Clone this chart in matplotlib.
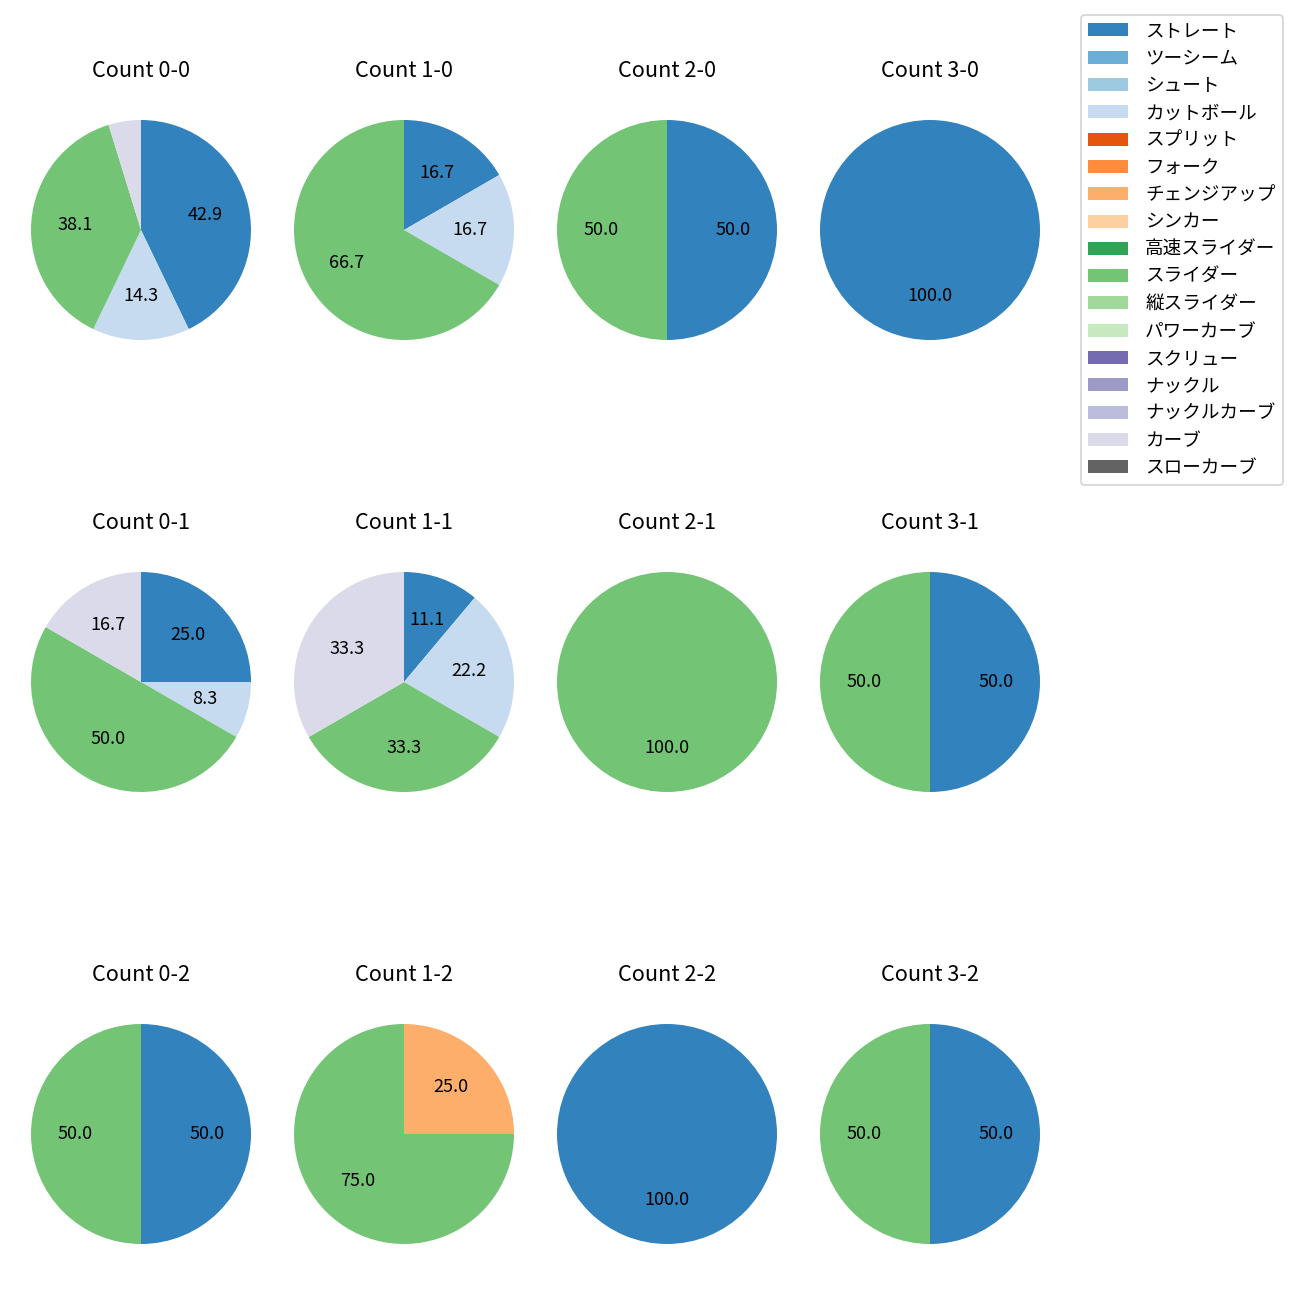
"""
Pie charts of pitch type mix by ball-strike count.
"""

import matplotlib
matplotlib.use("Agg")
import matplotlib.pyplot as plt
from matplotlib.patches import Patch

plt.rcParams['font.family'] = ['Noto Sans CJK JP', 'DejaVu Sans']

# Pitch types in legend order.
pitch_types = [
    "ストレート", "ツーシーム", "シュート", "カットボール", "スプリット",
    "フォーク", "チェンジアップ", "シンカー", "高速スライダー", "スライダー",
    "縦スライダー", "パワーカーブ", "スクリュー", "ナックル", "ナックルカーブ",
    "カーブ", "スローカーブ",
]

# Number of pitches of each type, per count (ordered as pitch_types).
#            St Tw Sh Ct Sp Fk Ch Si HS Sl VS PC Sc Kn KC Cv SC
count_00 = [9, 0, 0, 3, 0, 0, 0, 0, 0, 8, 0, 0, 0, 0, 0, 1, 0]
count_10 = [1, 0, 0, 1, 0, 0, 0, 0, 0, 4, 0, 0, 0, 0, 0, 0, 0]
count_20 = [1, 0, 0, 0, 0, 0, 0, 0, 0, 1, 0, 0, 0, 0, 0, 0, 0]
count_30 = [1, 0, 0, 0, 0, 0, 0, 0, 0, 0, 0, 0, 0, 0, 0, 0, 0]
count_01 = [3, 0, 0, 1, 0, 0, 0, 0, 0, 6, 0, 0, 0, 0, 0, 2, 0]
count_11 = [1, 0, 0, 2, 0, 0, 0, 0, 0, 3, 0, 0, 0, 0, 0, 3, 0]
count_21 = [0, 0, 0, 0, 0, 0, 0, 0, 0, 1, 0, 0, 0, 0, 0, 0, 0]
count_31 = [1, 0, 0, 0, 0, 0, 0, 0, 0, 1, 0, 0, 0, 0, 0, 0, 0]
count_02 = [1, 0, 0, 0, 0, 0, 0, 0, 0, 1, 0, 0, 0, 0, 0, 0, 0]
count_12 = [0, 0, 0, 0, 0, 0, 1, 0, 0, 3, 0, 0, 0, 0, 0, 0, 0]
count_22 = [1, 0, 0, 0, 0, 0, 0, 0, 0, 0, 0, 0, 0, 0, 0, 0, 0]
count_32 = [1, 0, 0, 0, 0, 0, 0, 0, 0, 1, 0, 0, 0, 0, 0, 0, 0]

# Grid rows are strikes, columns are balls.
grid = [
    [("0-0", count_00), ("1-0", count_10), ("2-0", count_20), ("3-0", count_30)],
    [("0-1", count_01), ("1-1", count_11), ("2-1", count_21), ("3-1", count_31)],
    [("0-2", count_02), ("1-2", count_12), ("2-2", count_22), ("3-2", count_32)],
]

colors = [plt.cm.tab20c(i) for i in range(len(pitch_types))]

W, H = 1300, 1300
fig = plt.figure(figsize=(10, 10), dpi=130)

col_x = [141, 404, 667, 930]
row_y = [230, 682, 1134]
box = 275  # pixel size of each (square) axes


def pct_label(p):
    return "%.1f" % p if p >= 5 else ""


for r, row in enumerate(grid):
    for c, (name, counts) in enumerate(row):
        cx, cy = col_x[c], row_y[r]
        ax = fig.add_axes([(cx - box / 2) / W, 1 - (cy + box / 2) / H,
                           box / W, box / H])
        vals = [v for v in counts if v > 0]
        cols = [colors[i] for i, v in enumerate(counts) if v > 0]
        ax.pie(vals, colors=cols, startangle=90, counterclock=False,
               autopct=pct_label, textprops={'fontsize': 10})
        ax.set_title("Count " + name, fontsize=12, pad=8.5)

handles = [Patch(facecolor=colors[i]) for i in range(len(pitch_types))]
fig.legend(handles, pitch_types, loc="upper right",
           bbox_to_anchor=(1283 / W, 1 - 15 / H), borderaxespad=0,
           fontsize=10.3, handlelength=2.1, handletextpad=0.95)

plt.savefig("out.png", dpi=130)
